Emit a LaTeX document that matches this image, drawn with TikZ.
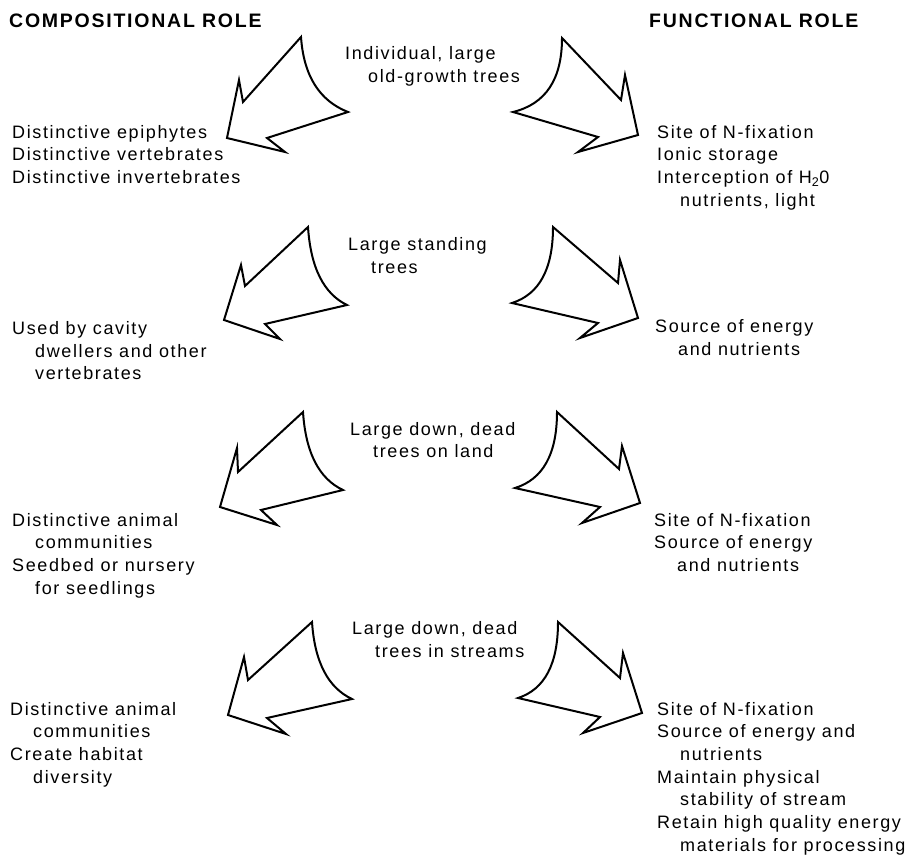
\documentclass[tikz,border=0pt]{standalone}
\usepackage{fontspec}
\setmainfont{Liberation Sans}[LetterSpace=9]
\newfontfamily\myHeadFam{Liberation Sans}[LetterSpace=9]
\newcommand\myBody{\fontsize{18pt}{22.7pt}\selectfont}
\newcommand\myHead{\myHeadFam\fontsize{19.5pt}{24pt}\selectfont\bfseries}
\newcommand\blk[1]{\begin{tabular}[t]{@{}l@{}}#1\end{tabular}}
\newcommand\ind{\hspace*{23pt}}
\tikzset{
  arr/.style={draw=black, line width=2pt, line join=miter, fill=white},
  txt/.style={inner sep=0pt, anchor=base west, font=\myBody},
  head/.style={inner sep=0pt, anchor=base west, font=\myHead},
}
\begin{document}
\begin{tikzpicture}[x=1pt,y=-1pt]
\path[use as bounding box, fill=white] (0,0) rectangle (915,856);

% headings
\node[head] (hc) at (9,27.5) {COMPOSITIONAL ROLE};
\node[head] (hf) at (649,27.5) {FUNCTIONAL ROLE};

% centre labels
\node[txt] (c1) at (345,59.5) {\blk{Individual, large\\ \ind old-growth trees}};
\node[txt] (c2) at (348,250.5) {\blk{Large standing\\ \ind trees}};
\node[txt] (c3) at (350,435) {\blk{Large down, dead\\ \ind trees on land}};
\node[txt] (c4) at (352,634.5) {\blk{Large down, dead\\ \ind trees in streams}};

% left column
\node[txt] (l1) at (12,138.3) {\blk{Distinctive epiphytes\\Distinctive vertebrates\\Distinctive invertebrates}};
\node[txt] (l2) at (12,334.5) {\blk{Used by cavity\\ \ind dwellers and other\\ \ind vertebrates}};
\node[txt] (l3) at (12,526) {\blk{Distinctive animal\\ \ind communities\\Seedbed or nursery\\ \ind for seedlings}};
\node[txt] (l4) at (10,715) {\blk{Distinctive animal\\ \ind communities\\Create habitat\\ \ind diversity}};

% right column
\node[txt] (r1) at (657,138.3) {\blk{Site of N-fixation\\Ionic storage\\Interception of H\textsubscript{2}0\\ \ind nutrients, light}};
\node[txt] (r2) at (655,332.3) {\blk{Source of energy\\ \ind and nutrients}};
\node[txt] (r3) at (654,526) {\blk{Site of N-fixation\\Source of energy\\ \ind and nutrients}};
\node[txt] (r4) at (657,715) {\blk{Site of N-fixation\\Source of energy and\\ \ind nutrients\\Maintain physical\\ \ind stability of stream\\Retain high quality energy\\ \ind materials for processing}};

% left block arrows
\draw[arr] (348,112) .. controls (319.3,100.7) and (303.7,75.7) .. (301,37) -- (243,102) -- (239,80) -- (227,138) -- (285,152) -- (267,138) -- cycle;
\draw[arr] (347,305) .. controls (323.7,293.7) and (310.7,267.7) .. (308,227) -- (245,286) -- (241,265) -- (224,320) -- (280,339) -- (265,324) -- cycle;
\draw[arr] (343,490) .. controls (319,478.7) and (305.7,452.7) .. (303,412) -- (238,472) -- (237,448) -- (220,507) -- (277,525) -- (261,510) -- cycle;
\draw[arr] (352,699) .. controls (328,687.7) and (314.7,662) .. (312,622) -- (248,680) -- (244,657) -- (228,715) -- (286,734) -- (267,718) -- cycle;

% right block arrows
\draw[arr] (513,112) .. controls (545.7,104) and (562,79.3) .. (562,38) -- (621,100) -- (625,75) -- (638,135) -- (578,152) -- (598,137) -- cycle;
\draw[arr] (512,303) .. controls (539.3,294.3) and (553,269) .. (553,227) -- (618,283) -- (620,260) -- (638,318) -- (580,338) -- (598,323) -- cycle;
\draw[arr] (515,488) .. controls (543,479.3) and (557,454) .. (557,412) -- (619,469) -- (622,446) -- (640,503) -- (582,523) -- (600,507) -- cycle;
\draw[arr] (518,698) .. controls (544.7,689.3) and (558,664) .. (558,622) -- (620,678) -- (623,653) -- (642,713) -- (583,733) -- (600,717) -- cycle;
\end{tikzpicture}
\end{document}
